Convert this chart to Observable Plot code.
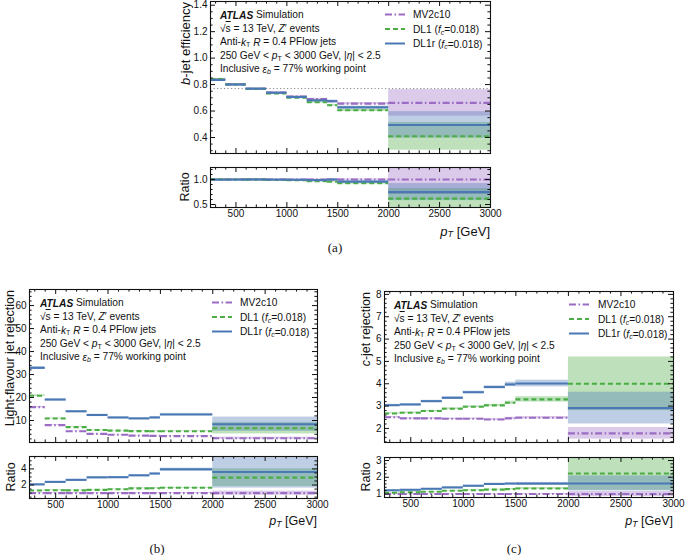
<!DOCTYPE html>
<html><head><meta charset="utf-8">
<script src="https://cdn.jsdelivr.net/npm/d3@7"></script>
<script src="https://cdn.jsdelivr.net/npm/@observablehq/plot@0.6"></script>
<style>
body{margin:0;background:#fff;}
#fig{position:relative;width:685px;height:555px;overflow:hidden;background:#fff;font-family:"Liberation Sans",Arial,Helvetica,sans-serif;}
#fig > svg{position:absolute;}
</style></head><body><div id="fig"></div>
<script>
// ---------------- data ----------------
const binEdges = [250, 400, 600, 800, 1000, 1200, 1400, 1500, 2000, 3000];
const xTicks = [500, 1000, 1500, 2000, 2500, 3000];
const taggers = ["MV2c10", "DL1", "DL1r"];

// (a) b-jet efficiency
const effMV2c10 = [0.838, 0.802, 0.768, 0.740, 0.710, 0.690, 0.675, 0.656, 0.662];
const effDL1    = [0.841, 0.801, 0.767, 0.733, 0.700, 0.666, 0.644, 0.606, 0.409];
const effDL1r   = [0.835, 0.800, 0.769, 0.738, 0.706, 0.681, 0.674, 0.628, 0.495];
const effErrMV2c10 = [0.006, 0.005, 0.005, 0.005, 0.005, 0.006, 0.007, 0.008, 0.100];
const effErrDL1    = [0.006, 0.005, 0.005, 0.005, 0.005, 0.006, 0.007, 0.009, 0.105];
const effErrDL1r   = [0.006, 0.005, 0.005, 0.005, 0.005, 0.006, 0.007, 0.009, 0.100];
const effRatioMV2c10 = [1, 1, 1, 1, 1, 1, 1, 1, 1];
const effRatioDL1    = [1.003, 0.999, 0.998, 0.990, 0.986, 0.965, 0.954, 0.924, 0.618];
const effRatioDL1r   = [0.996, 0.998, 1.001, 0.997, 0.994, 0.987, 0.998, 0.957, 0.748];
const effRatioErrMV2c10 = [0.010, 0.008, 0.008, 0.008, 0.008, 0.010, 0.012, 0.014, 0.30];
const effRatioErrDL1    = [0.010, 0.008, 0.008, 0.008, 0.008, 0.010, 0.012, 0.016, 0.20];
const effRatioErrDL1r   = [0.010, 0.008, 0.008, 0.008, 0.008, 0.010, 0.012, 0.016, 0.17];
const workingPoint = 0.77;

// (b) light-flavour jet rejection
const lrMV2c10 = [15.8, 8.0, 5.3, 4.2, 3.8, 3.4, 3.3, 3.2, 2.3];
const lrDL1    = [20.8, 10.9, 7.1, 5.9, 5.6, 5.4, 5.3, 5.3, 6.65];
const lrDL1r   = [32.9, 19.1, 14.0, 12.4, 11.3, 10.9, 11.3, 12.6, 8.4];
const lrErrMV2c10 = [0.3, 0.15, 0.1, 0.08, 0.08, 0.08, 0.1, 0.1, 0.45];
const lrErrDL1    = [0.4, 0.2, 0.15, 0.12, 0.12, 0.12, 0.15, 0.15, 2.5];
const lrErrDL1r   = [0.6, 0.35, 0.3, 0.3, 0.3, 0.3, 0.4, 0.5, 3.1];
const lrRatioMV2c10 = [1, 1, 1, 1, 1, 1, 1, 1, 1];
const lrRatioDL1    = [1.32, 1.36, 1.34, 1.40, 1.47, 1.59, 1.61, 1.66, 2.92];
const lrRatioDL1r   = [2.08, 2.39, 2.64, 2.95, 2.97, 3.20, 3.42, 3.94, 3.62];
const lrRatioErrMV2c10 = [0.04, 0.04, 0.04, 0.04, 0.04, 0.04, 0.05, 0.05, 0.25];
const lrRatioErrDL1    = [0.04, 0.04, 0.04, 0.04, 0.04, 0.05, 0.05, 0.06, 1.1];
const lrRatioErrDL1r   = [0.06, 0.06, 0.07, 0.08, 0.08, 0.09, 0.10, 0.15, 2.0];

// (c) c-jet rejection
const crMV2c10 = [2.50, 2.45, 2.45, 2.43, 2.43, 2.40, 2.45, 2.48, 1.78];
const crDL1    = [2.67, 2.70, 2.78, 2.88, 2.97, 3.03, 3.15, 3.30, 4.00];
const crDL1r   = [3.04, 3.07, 3.22, 3.37, 3.62, 3.85, 3.97, 4.01, 2.91];
const crErrMV2c10 = [0.03, 0.03, 0.03, 0.03, 0.03, 0.04, 0.05, 0.05, 0.26];
const crErrDL1    = [0.03, 0.03, 0.03, 0.04, 0.04, 0.05, 0.07, 0.12, 1.2];
const crErrDL1r   = [0.04, 0.04, 0.04, 0.05, 0.05, 0.06, 0.10, 0.15, 0.71];
const crRatioMV2c10 = [1, 1, 1, 1, 1, 1, 1, 1, 1];
const crRatioDL1    = [1.07, 1.10, 1.13, 1.19, 1.22, 1.26, 1.29, 1.33, 2.22];
const crRatioDL1r   = [1.22, 1.25, 1.31, 1.39, 1.49, 1.60, 1.62, 1.62, 1.63];
const crRatioErrMV2c10 = [0.02, 0.02, 0.02, 0.02, 0.02, 0.02, 0.03, 0.03, 0.15];
const crRatioErrDL1    = [0.02, 0.02, 0.02, 0.02, 0.03, 0.03, 0.04, 0.05, 1.0];
const crRatioErrDL1r   = [0.02, 0.02, 0.02, 0.03, 0.03, 0.03, 0.05, 0.07, 0.45];

// ---------------- style ----------------
const colors = {MV2c10: "#9b6cc4", DL1: "#4aad44", DL1r: "#4a78b4"};
const dashes = {MV2c10: "7,2.5,1.6,2.5", DL1: "5,3", DL1r: undefined};
const fig = document.getElementById("fig");
const tickFont = 10;

function rows(vals, errs) {
  return vals.map((v, i) => ({x1: binEdges[i], x2: binEdges[i + 1], v, lo: v - errs[i], hi: v + errs[i]}));
}

function panel(cfg) {
  const {fx1, fx2, fy1, fy2, ydomain, yMajor, yMinor, yFmt, xLabels, series, refLine} = cfg;
  const mL = 45, mR = 14, mT = 3, mB = xLabels ? 18 : 3;
  const fw = fx2 - fx1, fh = fy2 - fy1;
  const W = fw + mL + mR, H = fh + mT + mB;
  const xMinor = d3.range(300, 3000, 100).filter(d => d % 500 !== 0);
  const marks = [];
  for (const s of series)
    marks.push(Plot.rectY(s.data, {x1: "x1", x2: "x2", y1: "lo", y2: "hi", fill: colors[s.key], fillOpacity: 0.36, clip: true}));
  if (refLine !== undefined)
    marks.push(Plot.ruleY([refLine], {y: d => d, stroke: "#8a8a8a", strokeDasharray: "1.2,2.3", strokeWidth: 1}));
  for (const s of series)
    marks.push(Plot.ruleY(s.data, {y: "v", x1: "x1", x2: "x2", stroke: colors[s.key], strokeWidth: 2.1, strokeDasharray: dashes[s.key], clip: true}));
  const tl = 5, ts = 2.6;
  marks.push(
    Plot.tickX(xTicks, {x: d => d, insetTop: fh - tl}),
    Plot.tickX(xTicks, {x: d => d, insetBottom: fh - tl}),
    Plot.tickX(xMinor, {x: d => d, insetTop: fh - ts}),
    Plot.tickX(xMinor, {x: d => d, insetBottom: fh - ts}),
    Plot.tickY(yMajor, {y: d => d, insetRight: fw - tl}),
    Plot.tickY(yMajor, {y: d => d, insetLeft: fw - tl}),
    Plot.tickY(yMinor, {y: d => d, insetRight: fw - ts}),
    Plot.tickY(yMinor, {y: d => d, insetLeft: fw - ts}),
    Plot.frame({stroke: "#111", strokeWidth: 1.1}),
    Plot.axisY(yMajor, {anchor: "left", tickSize: 0, tickPadding: 3, tickFormat: yFmt, fontSize: tickFont, label: null})
  );
  if (xLabels) marks.push(Plot.axisX(xTicks, {anchor: "bottom", tickSize: 0, tickPadding: 2, tickFormat: d3.format("d"), fontSize: tickFont, label: null}));
  const svg = Plot.plot({
    width: W, height: H, marginLeft: mL, marginRight: mR, marginTop: mT, marginBottom: mB,
    x: {domain: [250, 3000], axis: null},
    y: {domain: ydomain, axis: null},
    style: {fontFamily: '"Liberation Sans", Arial, Helvetica, sans-serif', fontSize: tickFont + "px", color: "#111", background: "transparent", overflow: "visible"},
    marks
  });
  svg.style.left = (fx1 - mL) + "px";
  svg.style.top = (fy1 - mT) + "px";
  fig.appendChild(svg);
}

function trio(mv, dl1, dl1r, emv, edl1, edl1r) {
  return [
    {key: "MV2c10", data: rows(mv, emv)},
    {key: "DL1", data: rows(dl1, edl1)},
    {key: "DL1r", data: rows(dl1r, edl1r)}
  ];
}
const f1 = d3.format(".1f");
const fInt = d3.format("d");

// (a)
panel({fx1: 210, fx2: 490, fy1: 1, fy2: 153, ydomain: [0.279, 1.428],
  yMajor: [0.4, 0.6, 0.8, 1.0, 1.2, 1.4], yMinor: d3.range(0.3, 1.43, 0.05).map(d => +d.toFixed(2)).filter(d => Math.round(d * 100) % 20 !== 0),
  yFmt: f1, xLabels: false, refLine: workingPoint,
  series: trio(effMV2c10, effDL1, effDL1r, effErrMV2c10, effErrDL1, effErrDL1r)});
panel({fx1: 210, fx2: 490, fy1: 167, fy2: 207, ydomain: [0.44, 1.24],
  yMajor: [0.5, 1.0], yMinor: [0.6, 0.7, 0.8, 0.9, 1.1, 1.2],
  yFmt: f1, xLabels: true,
  series: trio(effRatioMV2c10, effRatioDL1, effRatioDL1r, effRatioErrMV2c10, effRatioErrDL1, effRatioErrDL1r)});
// (b)
panel({fx1: 29, fx2: 317, fy1: 289, fy2: 442, ydomain: [0.43, 67],
  yMajor: [10, 20, 30, 40, 50, 60], yMinor: d3.range(2, 67, 2).filter(d => d % 10 !== 0),
  yFmt: fInt, xLabels: false,
  series: trio(lrMV2c10, lrDL1, lrDL1r, lrErrMV2c10, lrErrDL1, lrErrDL1r)});
panel({fx1: 29, fx2: 317, fy1: 456, fy2: 498, ydomain: [0.33, 5.54],
  yMajor: [2, 4], yMinor: [0.5, 1, 1.5, 2.5, 3, 3.5, 4.5, 5],
  yFmt: fInt, xLabels: true,
  series: trio(lrRatioMV2c10, lrRatioDL1, lrRatioDL1r, lrRatioErrMV2c10, lrRatioErrDL1, lrRatioErrDL1r)});
// (c)
panel({fx1: 384, fx2: 673, fy1: 291, fy2: 442, ydomain: [1.37, 8.13],
  yMajor: [2, 3, 4, 5, 6, 7, 8], yMinor: d3.range(1.4, 8.1, 0.2).map(d => +d.toFixed(1)).filter(d => Math.abs(d - Math.round(d)) > 0.01),
  yFmt: fInt, xLabels: false,
  series: trio(crMV2c10, crDL1, crDL1r, crErrMV2c10, crErrDL1, crErrDL1r)});
panel({fx1: 384, fx2: 673, fy1: 457, fy2: 497, ydomain: [0.79, 3.18],
  yMajor: [1, 2, 3], yMinor: [1.2, 1.4, 1.6, 1.8, 2.2, 2.4, 2.6, 2.8],
  yFmt: fInt, xLabels: true,
  series: trio(crRatioMV2c10, crRatioDL1, crRatioDL1r, crRatioErrMV2c10, crRatioErrDL1, crRatioErrDL1r)});

// ---------------- text overlay ----------------
const I = s => `<tspan font-style="italic">${s}</tspan>`;
const sub = (s, it, fs) => `<tspan dy="2.6" font-size="${fs || 7}"${it ? ' font-style="italic"' : ''}>${s}</tspan><tspan dy="-2.6">`;
const annLines = [
  `<tspan font-weight="bold" font-style="italic">ATLAS</tspan> Simulation`,
  `√<tspan style="text-decoration:overline">s</tspan> = 13 TeV, ${I("Z")}′ events`,
  `Anti-${I("k")}${sub("T", false)} </tspan>${I("R")} = 0.4 PFlow jets`,
  `250 GeV &lt; ${I("p")}${sub("T", false)} </tspan>&lt; 3000 GeV, |${I("η")}| &lt; 2.5`,
  `Inclusive ${I("ε")}${sub("b", true)} </tspan>= 77% working point`
];
const legLabels = [
  {key: "MV2c10", html: "MV2c10"},
  {key: "DL1", html: `DL1 (${I("f")}${sub("c", true)}=0.018)</tspan>`},
  {key: "DL1r", html: `DL1r (${I("f")}${sub("c", true)}=0.018)</tspan>`}
];
let t = "";
function annotations(x, top) {
  annLines.forEach((l, i) => {
    t += `<text x="${x}" y="${top + 13.5 + i * 13.5}" font-size="10.2" dominant-baseline="central">${l}</text>`;
  });
}
function legend(lx, tx, top) {
  legLabels.forEach((l, i) => {
    const y = top + 13.5 + i * 14.5;
    t += `<line x1="${lx}" x2="${lx + 20}" y1="${y}" y2="${y}" stroke="${colors[l.key]}" stroke-width="2" ${dashes[l.key] ? `stroke-dasharray="${dashes[l.key]}"` : ""}/>`;
    t += `<text x="${tx}" y="${y}" font-size="10.2" dominant-baseline="central">${l.html}</text>`;
  });
}
function ytitle(x, top, html, fs) {
  t += `<text transform="translate(${x},${top}) rotate(-90)" text-anchor="end" dominant-baseline="central" font-size="${fs}">${html}</text>`;
}
function ymid(x, cy, html, fs) {
  t += `<text transform="translate(${x},${cy}) rotate(-90)" text-anchor="middle" dominant-baseline="central" font-size="${fs}">${html}</text>`;
}
function xtitle(xr, y, fs) {
  t += `<text x="${xr}" y="${y}" text-anchor="end" dominant-baseline="central" font-size="${fs}">${I("p")}<tspan dy="3" font-size="${fs * 0.7}" font-style="italic">T</tspan><tspan dy="-3"> [GeV]</tspan></text>`;
}
function caption(x, y, s) {
  t += `<text x="${x}" y="${y}" text-anchor="middle" dominant-baseline="central" font-size="13" font-family="'Liberation Serif','DejaVu Serif',serif">${s}</text>`;
}
annotations(220, 1); legend(385, 413, 1);
annotations(40, 289); legend(212, 240, 289);
annotations(394, 291); legend(569, 598, 291);
ytitle(185, 2, `${I("b")}-jet efficiency`, 13);
ymid(185, 187, "Ratio", 12.5);
ytitle(10, 290, "Light-flavour jet rejection", 12.5);
ymid(11, 477, "Ratio", 12.5);
ytitle(366, 292, `${I("c")}-jet rejection`, 12.5);
ymid(366, 477, "Ratio", 12.5);
xtitle(490, 231, 13);
xtitle(317, 521, 12.5);
xtitle(673, 521, 12.5);
caption(335, 247, "(a)");
caption(157, 548, "(b)");
caption(514, 548, "(c)");

const ov = document.createElementNS("http://www.w3.org/2000/svg", "svg");
ov.setAttribute("width", 685); ov.setAttribute("height", 555);
ov.style.position = "absolute"; ov.style.left = "0px"; ov.style.top = "0px"; ov.style.pointerEvents = "none";
ov.setAttribute("font-family", '"Liberation Sans", Arial, Helvetica, sans-serif');
ov.setAttribute("fill", "#111");
ov.innerHTML = t;
fig.appendChild(ov);
</script></body></html>
